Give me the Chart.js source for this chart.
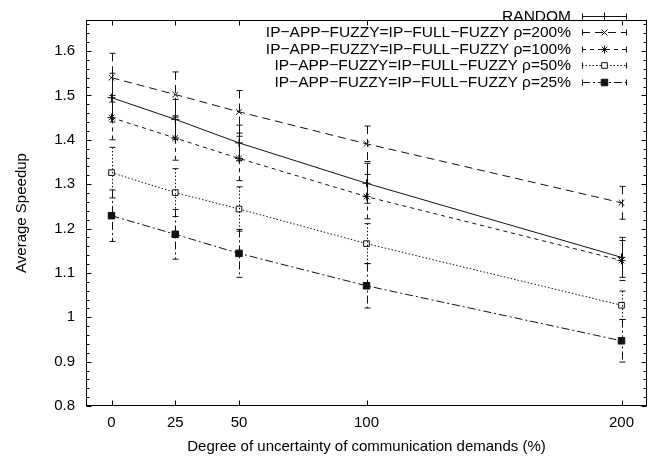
<!DOCTYPE html>
<html>
<head>
<meta charset="utf-8">
<script src="https://cdn.jsdelivr.net/npm/chart.js@4/dist/chart.umd.min.js"></script>
<style>
html, body { margin: 0; padding: 0; background: #fff; }
#wrap { width: 655px; height: 460px; }
</style>
</head>
<body>
<div id="wrap"><canvas id="speedupChart" width="655" height="460"></canvas></div>
<script>
// x values (degree of uncertainty, %)
var uncertainty = [0, 25, 50, 100, 200];
var xTickValues = [0, 25, 50, 100, 200];
var yTickValues = [0.8, 0.9, 1.0, 1.1, 1.2, 1.3, 1.4, 1.5, 1.6];

var seriesLabels = [
    'RANDOM',
    'IP\u2212APP\u2212FUZZY=IP\u2212FULL\u2212FUZZY \u03c1=200%',
    'IP\u2212APP\u2212FUZZY=IP\u2212FULL\u2212FUZZY \u03c1=100%',
    'IP\u2212APP\u2212FUZZY=IP\u2212FULL\u2212FUZZY \u03c1=50%',
    'IP\u2212APP\u2212FUZZY=IP\u2212FULL\u2212FUZZY \u03c1=25%'
];

var randomSpeedup = [1.495, 1.446, 1.393, 1.302, 1.135];
var randomErr     = [0.055, 0.045, 0.040, 0.045, 0.045];
var rho200Speedup = [1.540, 1.502, 1.463, 1.391, 1.258];
var rho200Err     = [0.055, 0.051, 0.048, 0.040, 0.037];
var rho100Speedup = [1.450, 1.404, 1.358, 1.272, 1.128];
var rho100Err     = [0.050, 0.050, 0.050, 0.050, 0.045];
var rho50Speedup  = [1.326, 1.281, 1.244, 1.166, 1.027];
var rho50Err      = [0.057, 0.054, 0.050, 0.045, 0.032];
var rho25Speedup  = [1.229, 1.187, 1.144, 1.071, 0.947];
var rho25Err      = [0.058, 0.056, 0.054, 0.050, 0.048];

var FONT = 'Liberation Sans, Arial, Helvetica, sans-serif';

function points(vals) {
    return uncertainty.map(function (x, i) { return { x: x, y: vals[i] }; });
}

function series(i, vals, errs, dash, style, radius, fill) {
    return {
        label: seriesLabels[i],
        data: points(vals),
        errors: errs,
        borderColor: '#111',
        borderWidth: 1,
        borderDash: dash,
        pointStyle: style,
        pointRadius: radius,
        pointBorderWidth: 1,
        pointBorderColor: '#111',
        pointBackgroundColor: fill,
        fill: false,
        tension: 0
    };
}

// vertical error bars with caps, same dash as the series line
var errorBars = {
    id: 'errorBars',
    afterDatasetsDraw: function (chart) {
        var ctx = chart.ctx, xs = chart.scales.x, ys = chart.scales.y;
        chart.data.datasets.forEach(function (ds) {
            ctx.save();
            ctx.strokeStyle = ds.borderColor;
            ctx.lineWidth = 1;
            ctx.setLineDash(ds.borderDash || []);
            ds.data.forEach(function (p, j) {
                var x = Math.round(xs.getPixelForValue(p.x)) + 0.5;
                var yt = ys.getPixelForValue(p.y + ds.errors[j]);
                var yb = ys.getPixelForValue(p.y - ds.errors[j]);
                ctx.beginPath();
                ctx.moveTo(x, yt); ctx.lineTo(x, yb);
                ctx.stroke();
                ctx.setLineDash([]);
                ctx.beginPath();
                ctx.moveTo(x - 3, yt); ctx.lineTo(x + 3, yt);
                ctx.moveTo(x - 3, yb); ctx.lineTo(x + 3, yb);
                ctx.stroke();
                ctx.setLineDash(ds.borderDash || []);
            });
            ctx.restore();
        });
    }
};

// gnuplot-like box with inward ticks on all four sides
var frame = {
    id: 'frame',
    afterDraw: function (chart) {
        var ctx = chart.ctx, a = chart.chartArea, xs = chart.scales.x, ys = chart.scales.y;
        var l = a.left + 0.5, r = a.right - 0.5, t = a.top + 0.5, b = a.bottom - 0.5;
        ctx.save();
        ctx.strokeStyle = '#000';
        ctx.lineWidth = 1;
        ctx.strokeRect(l, t, r - l, b - t);
        ctx.beginPath();
        xTickValues.forEach(function (v) {
            var x = Math.round(xs.getPixelForValue(v)) + 0.5;
            ctx.moveTo(x, b); ctx.lineTo(x, b - 5);
            ctx.moveTo(x, t); ctx.lineTo(x, t + 5);
        });
        for (var k = 0; k <= 43; k++) {
            var v = 0.8 + k * 0.02;
            if (v > ys.max) break;
            var y = Math.round(ys.getPixelForValue(v)) + 0.5;
            var len = (k % 5 === 0) ? 5 : 3;
            ctx.moveTo(l, y); ctx.lineTo(l + len, y);
            ctx.moveTo(r, y); ctx.lineTo(r - len, y);
        }
        ctx.stroke();
        ctx.restore();
    }
};

// legend at top right: right-aligned text, sample on the right
var keyBox = {
    id: 'keyBox',
    afterDraw: function (chart) {
        var ctx = chart.ctx;
        var textRight = 571, x0 = 582, x1 = 627, xm = 604.5;
        ctx.save();
        ctx.font = '15.5px ' + FONT;
        ctx.fillStyle = '#000';
        ctx.textAlign = 'right';
        ctx.textBaseline = 'middle';
        chart.data.datasets.forEach(function (ds, i) {
            var y = Math.round(16 + i * 16.4) + 0.5;
            ctx.fillText(ds.label, textRight, y + 0.5);
            ctx.strokeStyle = ds.borderColor;
            ctx.lineWidth = 1;
            ctx.setLineDash(ds.borderDash || []);
            ctx.beginPath();
            ctx.moveTo(x0, y); ctx.lineTo(x1, y);
            ctx.stroke();
            ctx.setLineDash([]);
            ctx.beginPath();
            ctx.moveTo(x0 + 0.5, y - 3); ctx.lineTo(x0 + 0.5, y + 3);
            ctx.moveTo(x1 - 0.5, y - 3); ctx.lineTo(x1 - 0.5, y + 3);
            ctx.stroke();
            ctx.fillStyle = ds.pointBackgroundColor;
            Chart.helpers.drawPoint(ctx, {
                pointStyle: ds.pointStyle,
                radius: ds.pointRadius,
                borderWidth: 1,
                rotation: 0
            }, xm, y);
            ctx.fillStyle = '#000';
        });
        ctx.restore();
    }
};

new Chart(document.getElementById('speedupChart').getContext('2d'), {
    type: 'line',
    data: {
        datasets: [
            series(0, randomSpeedup, randomErr, [], 'cross', 4, '#111'),
            series(1, rho200Speedup, rho200Err, [8, 5], 'crossRot', 4, '#111'),
            series(2, rho100Speedup, rho100Err, [4, 4], 'star', 4, '#111'),
            series(3, rho50Speedup, rho50Err, [1.5, 2], 'rect', 4, '#fff'),
            series(4, rho25Speedup, rho25Err, [8, 3, 2, 3], 'rect', 4.6, '#111')
        ]
    },
    options: {
        responsive: false,
        animation: false,
        layout: { padding: { top: 4, right: 8, left: 0, bottom: 0 } },
        plugins: {
            legend: { display: false },
            tooltip: { enabled: false }
        },
        scales: {
            x: {
                type: 'linear',
                min: -10,
                max: 210,
                afterBuildTicks: function (s) {
                    s.ticks = xTickValues.map(function (v) { return { value: v }; });
                },
                afterFit: function (s) { s.height = 54; },
                grid: { display: false, drawTicks: false },
                border: { display: false },
                ticks: { color: '#000', font: { family: FONT, size: 15 }, padding: 8, maxRotation: 0 },
                title: {
                    display: true,
                    text: 'Degree of uncertainty of communication demands (%)',
                    color: '#000',
                    font: { family: FONT, size: 15 },
                    padding: { top: 0, bottom: 4 }
                }
            },
            y: {
                min: 0.8,
                max: 1.67,
                afterBuildTicks: function (s) {
                    s.ticks = yTickValues.map(function (v) { return { value: v }; });
                },
                afterFit: function (s) { s.width = 86; },
                grid: { display: false, drawTicks: false },
                border: { display: false },
                ticks: {
                    color: '#000',
                    font: { family: FONT, size: 15 },
                    padding: 11,
                    callback: function (v) { return String(+Number(v).toFixed(2)); }
                },
                title: {
                    display: true,
                    text: 'Average Speedup',
                    color: '#000',
                    font: { family: FONT, size: 15 },
                    padding: { top: 13, bottom: 0 }
                }
            }
        }
    },
    plugins: [errorBars, frame, keyBox]
});
</script>
</body>
</html>
